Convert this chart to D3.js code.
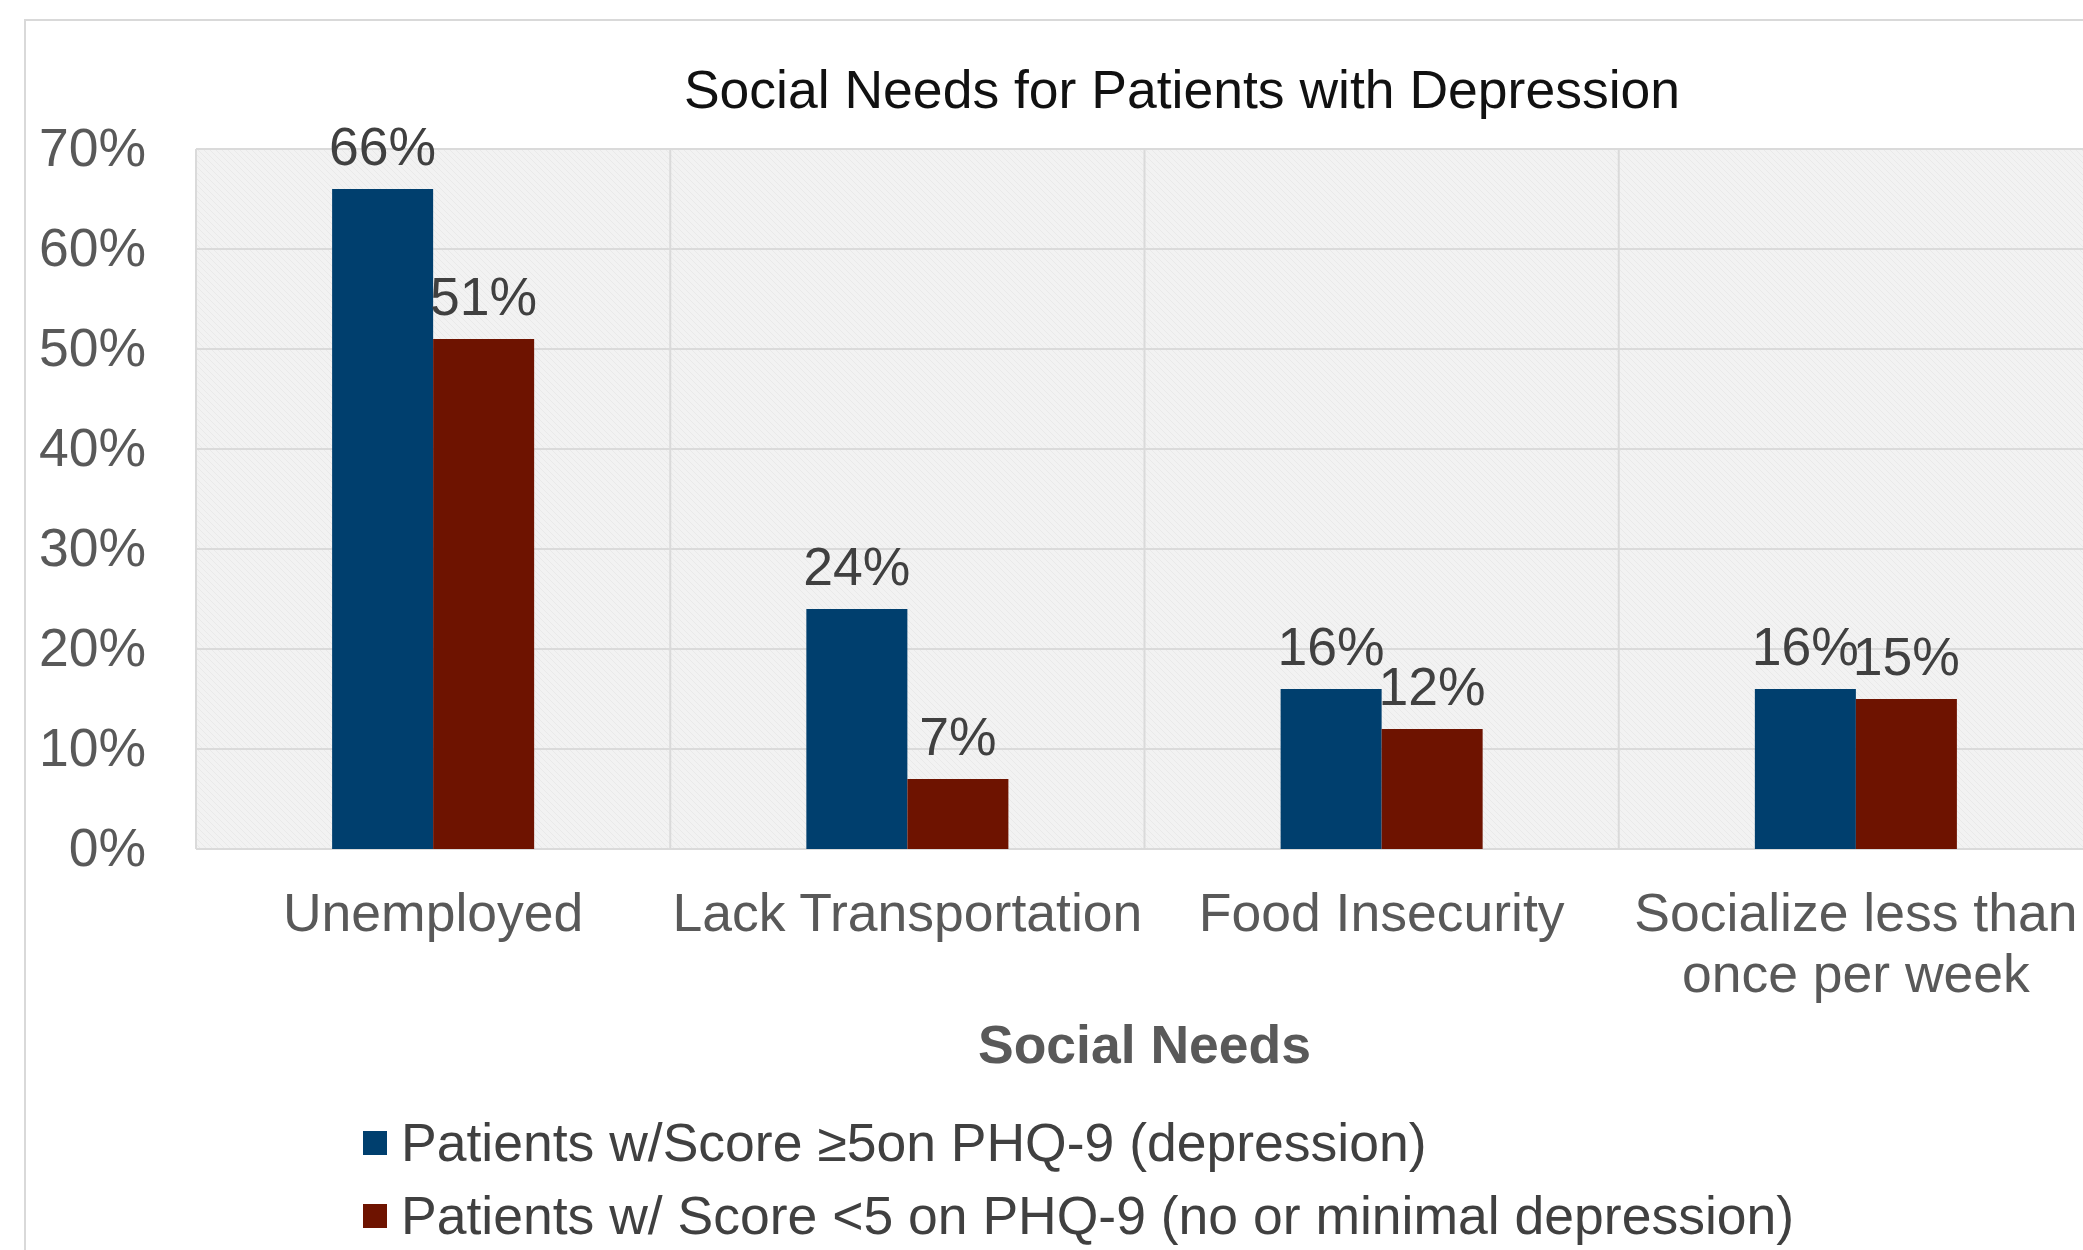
<!DOCTYPE html>
<html>
<head>
<meta charset="utf-8">
<script src="https://cdn.jsdelivr.net/npm/d3@7"></script>
<style>
  html, body { margin: 0; padding: 0; background: #ffffff; }
  svg { display: block; font-family: "Liberation Sans", Arial, sans-serif; }
</style>
</head>
<body>
<svg id="chart" width="2083" height="1250"></svg>
<script>
const categories = ["Unemployed", "Lack Transportation", "Food Insecurity", "Socialize less than\nonce per week"];
const seriesNames = ["Patients w/Score \u22655on PHQ-9 (depression)", "Patients w/ Score <5 on PHQ-9 (no or minimal depression)"];
const depressed = [0.66, 0.24, 0.16, 0.16];
const notDepressed = [0.51, 0.07, 0.12, 0.15];
const yTicks = [0, 0.1, 0.2, 0.3, 0.4, 0.5, 0.6, 0.7];
const colors = ["#003F6E", "#6E1300"];
const chartTitle = "Social Needs for Patients with Depression";
const xAxisTitle = "Social Needs";

const FS = 53.5;
const svg = d3.select("#chart");
const plot = { left: 196, right: 2093, top: 149, bottom: 849 };

// outer chart border
svg.append("rect").attr("x", 25).attr("y", 20).attr("width", 2200).attr("height", 1400)
  .attr("fill", "#ffffff").attr("stroke", "#d9d9d9").attr("stroke-width", 2);

// hatch pattern for plot background
const defs = svg.append("defs");
const pat = defs.append("pattern").attr("id", "hatch").attr("patternUnits", "userSpaceOnUse")
  .attr("width", 6).attr("height", 6);
pat.append("rect").attr("width", 6).attr("height", 6).attr("fill", "#f2f2f2");
pat.append("path").attr("d", "M0,0 L6,6").attr("stroke", "#e9e9e9").attr("stroke-width", 1);

const y = d3.scaleLinear().domain([0, 0.7]).range([plot.bottom, plot.top]);
const x = d3.scaleBand().domain(categories).range([plot.left, plot.right])
  .paddingInner(0.574).paddingOuter(0.287);
const xs = d3.scaleBand().domain([0, 1]).range([0, x.bandwidth()]).padding(0);
const step = x.step();

svg.append("rect").attr("x", plot.left).attr("y", plot.top)
  .attr("width", plot.right - plot.left).attr("height", plot.bottom - plot.top)
  .attr("fill", "url(#hatch)");

// horizontal gridlines
svg.append("g").selectAll("line").data(yTicks).join("line")
  .attr("x1", plot.left).attr("x2", plot.right)
  .attr("y1", d => y(d)).attr("y2", d => y(d))
  .attr("stroke", "#dadada").attr("stroke-width", 2);

// vertical gridlines at category boundaries
svg.append("g").selectAll("line").data(categories).join("line")
  .attr("x1", d => x(d) - x.paddingOuter() * step).attr("x2", d => x(d) - x.paddingOuter() * step)
  .attr("y1", plot.top).attr("y2", plot.bottom)
  .attr("stroke", "#dadada").attr("stroke-width", 2);

// y axis via d3.axisLeft
const yAxis = d3.axisLeft(y).tickValues(yTicks).tickFormat(d3.format(".0%")).tickSize(0).tickPadding(0);
const yg = svg.append("g").attr("transform", "translate(146,0)").call(yAxis);
yg.select(".domain").remove();
yg.selectAll("text").attr("font-size", FS).attr("fill", "#595959")
  .attr("font-family", "Liberation Sans, Arial, sans-serif").attr("dy", "0.3em");

// bars
const data = categories.map((c, i) => ({ cat: c, vals: [depressed[i], notDepressed[i]] }));
const groups = svg.append("g").selectAll("g").data(data).join("g")
  .attr("transform", d => `translate(${x(d.cat)},0)`);
groups.selectAll("rect").data(d => d.vals.map((v, k) => ({ v, k }))).join("rect")
  .attr("x", d => xs(d.k)).attr("width", xs.bandwidth())
  .attr("y", d => y(d.v)).attr("height", d => y(0) - y(d.v))
  .attr("fill", d => colors[d.k]);
groups.selectAll("text").data(d => d.vals.map((v, k) => ({ v, k }))).join("text")
  .attr("x", d => xs(d.k) + xs.bandwidth() / 2).attr("y", d => y(d.v) - 24)
  .attr("text-anchor", "middle").attr("font-size", FS).attr("fill", "#404040")
  .text(d => d3.format(".0%")(d.v));

// category labels
const xl = svg.append("g").selectAll("text").data(categories).join("text")
  .attr("x", d => x(d) + x.bandwidth() / 2).attr("y", 931)
  .attr("text-anchor", "middle").attr("font-size", FS).attr("fill", "#595959");
xl.each(function(d) {
  const lines = d.split("\n");
  d3.select(this).selectAll("tspan").data(lines).join("tspan")
    .attr("x", x(d) + x.bandwidth() / 2).attr("dy", (l, i) => i === 0 ? 0 : 61).text(l => l);
});

// x axis title
svg.append("text").attr("x", (plot.left + plot.right) / 2).attr("y", 1063)
  .attr("text-anchor", "middle").attr("font-size", FS).attr("font-weight", "bold")
  .attr("fill", "#595959").text(xAxisTitle);

// chart title
svg.append("text").attr("x", 1182).attr("y", 108).attr("text-anchor", "middle")
  .attr("font-size", FS).attr("fill", "#111111").text(chartTitle);

// legend
const leg = svg.append("g").selectAll("g").data(seriesNames).join("g")
  .attr("transform", (d, i) => `translate(363,${1143 + i * 73})`);
leg.append("rect").attr("x", 0).attr("y", -12).attr("width", 24).attr("height", 24)
  .attr("fill", (d, i) => colors[i]);
leg.append("text").attr("x", 38).attr("y", 0).attr("dy", "0.34em")
  .attr("font-size", FS).attr("fill", "#404040").text(d => d);
</script>
</body>
</html>
